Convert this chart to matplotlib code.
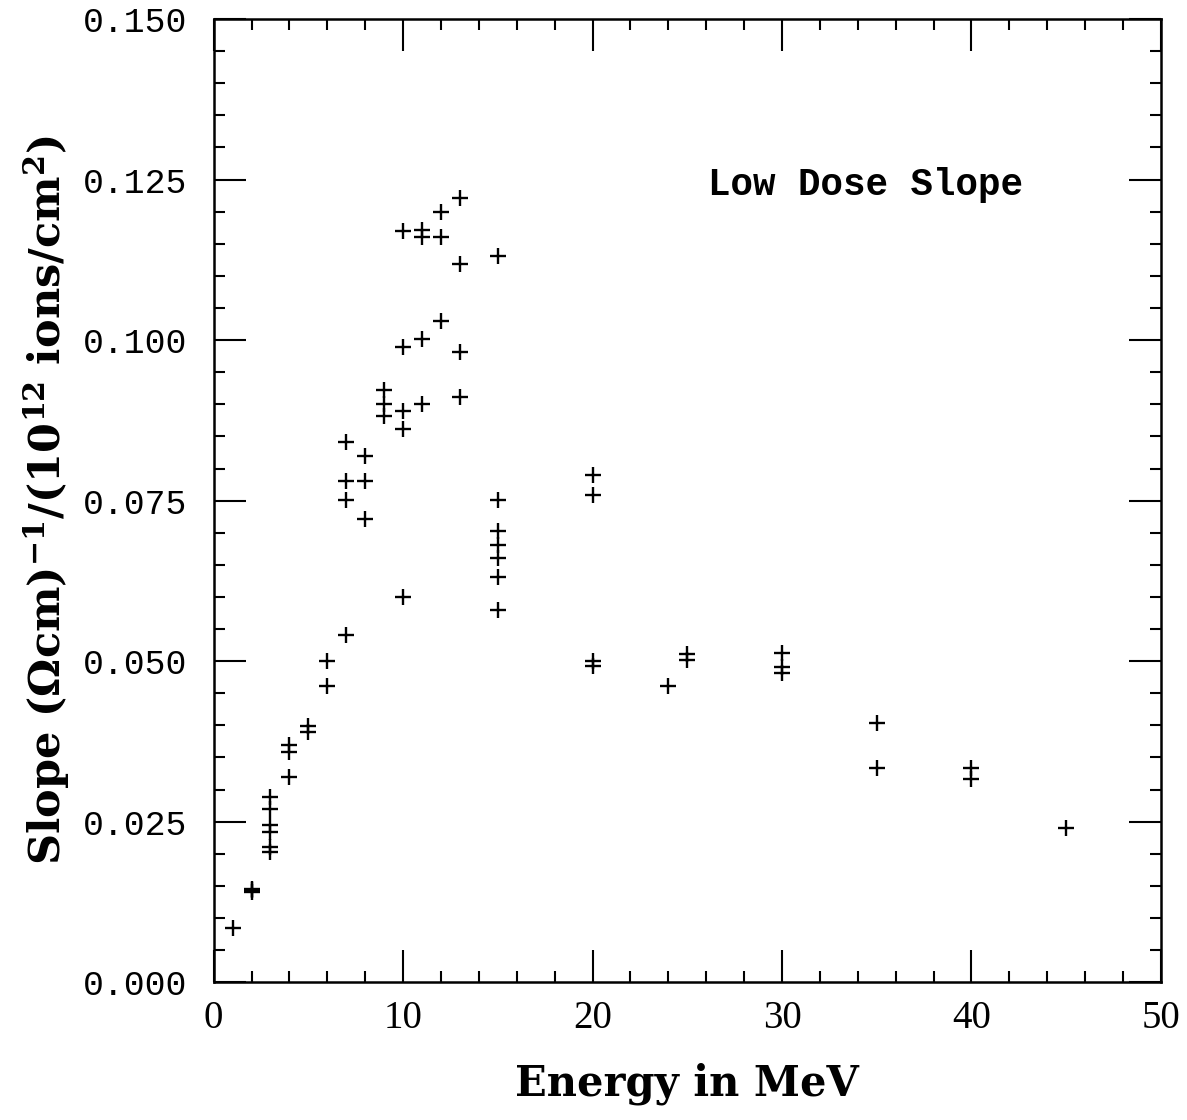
"""
Low dose slope vs ion energy, scatter of '+' markers.
"""

import matplotlib
matplotlib.use("Agg")
import matplotlib.pyplot as plt
from matplotlib.ticker import MultipleLocator, FormatStrFormatter

plt.rcParams["mathtext.fontset"] = "custom"
plt.rcParams["mathtext.bf"] = "DejaVu Serif:bold"
plt.rcParams["mathtext.rm"] = "DejaVu Serif:bold"
plt.rcParams["mathtext.default"] = "bf"

# Energy (MeV) and low dose slope
energy = [1,
          2, 2, 2,
          3, 3, 3, 3, 3, 3,
          4, 4, 4,
          5, 5,
          6, 6,
          7, 7, 7, 7,
          8, 8, 8,
          9, 9, 9,
          10, 10, 10, 10, 10,
          11, 11, 11, 11,
          12, 12, 12,
          13, 13, 13, 13,
          15, 15, 15, 15, 15, 15, 15,
          20, 20, 20, 20,
          24,
          25, 25,
          30, 30, 30,
          35, 35,
          40, 40,
          45]
slope = [0.0085,
         0.0141, 0.0143, 0.0145,
         0.0289, 0.0270, 0.0245, 0.0234, 0.0210, 0.0203,
         0.0370, 0.0359, 0.0319,
         0.0399, 0.0389,
         0.0500, 0.0461,
         0.0540, 0.0841, 0.0780, 0.0751,
         0.0820, 0.0780, 0.0721,
         0.0923, 0.0901, 0.0882,
         0.1170, 0.0990, 0.0889, 0.0861, 0.0600,
         0.1171, 0.1160, 0.1001, 0.0901,
         0.1200, 0.1160, 0.1030,
         0.1221, 0.1119, 0.0981, 0.0912,
         0.1131, 0.0751, 0.0703, 0.0681, 0.0661, 0.0631, 0.0580,
         0.0790, 0.0759, 0.0501, 0.0492,
         0.0461,
         0.0511, 0.0502,
         0.0512, 0.0491, 0.0482,
         0.0404, 0.0333,
         0.0333, 0.0317,
         0.0240]

fig = plt.figure(figsize=(11.87, 11.2), dpi=100)
ax = fig.add_axes([0.180, 0.123, 0.798, 0.860])

ax.plot(energy, slope, linestyle="none", marker="+", markersize=11.5,
        markeredgewidth=1.7, color="black")

ax.set_xlim(0, 50)
ax.set_ylim(0, 0.150)
ax.xaxis.set_major_locator(MultipleLocator(10))
ax.xaxis.set_minor_locator(MultipleLocator(2))
ax.yaxis.set_major_locator(MultipleLocator(0.025))
ax.yaxis.set_minor_locator(MultipleLocator(0.005))
ax.yaxis.set_major_formatter(FormatStrFormatter("%.3f"))

ax.tick_params(which="both", direction="in", top=True, right=True, width=1.5)
ax.tick_params(which="major", length=23)
ax.tick_params(which="minor", length=8)
ax.tick_params(axis="x", which="major", pad=13)
ax.tick_params(axis="y", which="major", pad=19)
for s in ax.spines.values():
    s.set_linewidth(1.8)

for lbl in ax.get_xticklabels():
    lbl.set_fontfamily("Liberation Serif")
    lbl.set_fontsize(28)
for lbl in ax.get_yticklabels():
    lbl.set_fontfamily("Liberation Mono")
    lbl.set_fontsize(25)

ax.set_xlabel("Energy in MeV", fontfamily="DejaVu Serif", fontweight="bold",
              fontsize=30, labelpad=18)
ax.set_ylabel(r"Slope (Ωcm)$^{-1}$/(10$^{12}$ ions/cm$^{2}$)",
              fontfamily="DejaVu Serif", fontweight="bold", fontsize=31,
              labelpad=8)

ax.text(0.522, 0.828, "Low Dose Slope", transform=ax.transAxes,
        fontfamily="Liberation Mono", fontweight="bold", fontsize=27,
        va="center", ha="left")

fig.savefig("out.png", dpi=100)
